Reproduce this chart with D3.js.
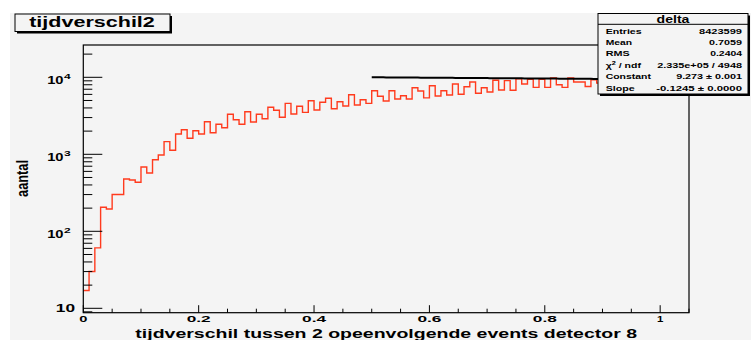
<!DOCTYPE html>
<html>
<head>
<meta charset="utf-8">
<script src="https://cdn.jsdelivr.net/npm/d3@7"></script>
<style>
  html, body { margin: 0; padding: 0; background: #ffffff; }
  svg { display: block; }
  text { font-family: "Liberation Sans", Arial, Helvetica, sans-serif; font-weight: bold; fill: #000; }
</style>
</head>
<body>
<svg id="chart" width="751" height="340"></svg>
<script>
// Histogram "delta": counts per 0.01-wide bin of the time difference
const binEdgesStart = 0;
const binWidth = 0.01;
const counts = [
  17, 30, 61, 205, 195, 300, 300, 478, 463, 433,
  684, 571, 851, 980, 1459, 1128, 1837, 2085, 1615, 2023,
  1837, 2650, 1909, 2453, 2213, 3306, 2812, 2453, 3575, 2624,
  3306, 2897, 4075, 3726, 3028, 4592, 3335, 4199, 3508, 4970,
  3760, 4733, 5333, 3909, 4819, 4236, 5943, 4367, 5117, 4592,
  6699, 5662, 4923, 6699, 5224, 5770, 5224, 7329, 6640, 5400,
  7750, 5716, 6699, 5892, 8186, 6013, 7551, 8690, 6195, 7329,
  6443, 9143, 6837, 9059, 6778, 9590, 8186, 9420, 7409, 9420,
  7400, 9800, 8000, 7400, 9800, 8700, 8700, 7600, 9300, 8400,
  9000, 8800, 9100, 8600, 9000, 8900, 8700, 9200, 8800, 9000
];

// Exponential fit over [0.5, 1.0]: exp(Constant + Slope * x)
const fitRange = [0.5, 1.0];
const fitConstant = 9.273;
const fitSlope = -0.1245;

// Axis ticks
const xMajorTicks = [0, 0.2, 0.4, 0.6, 0.8, 1];
const xMajorLabels = ["0", "0.2", "0.4", "0.6", "0.8", "1"];
const xMinorStep = 0.05;
const yDecades = [10, 100, 1000, 10000];
const yDecadeExponents = ["", "2", "3", "4"];

// Statistics box
const statTitle = "delta";
const statNames = ["Entries", "Mean", "RMS", "χ2 / ndf", "Constant", "Slope"];
const statValues = ["8423599", "0.7059", "0.2404", "2.335e+05 / 4948", "9.273 ± 0.001", "-0.1245 ± 0.0000"];

const histTitle = "tijdverschil2";
const xTitle = "tijdverschil tussen 2 opeenvolgende events detector 8";
const yTitle = "aantal";

const svg = d3.select("#chart");

const frame = { left: 83.3, right: 689, top: 45, bottom: 312.7 };

const x = d3.scaleLinear().domain([0, 1.05]).range([frame.left, frame.right]);
const y = d3.scaleLog().domain([8.77, 26270]).range([frame.bottom, frame.top]);

// Draw text, stretched horizontally to a given width
function label(parent, parts, o) {
  const g = parent.append("g");
  const t = g.append("text")
    .attr("font-size", o.size)
    .attr("text-anchor", o.anchor || "start");
  (Array.isArray(parts) ? parts : [[parts, false]]).forEach(([s, sup]) => {
    const ts = t.append("tspan").text(s);
    if (sup) ts.attr("font-size", o.size * 0.7).attr("baseline-shift", "super");
  });
  const w = t.node().getBBox().width;
  const sx = o.width ? o.width / w : 1;
  const rot = o.rotate ? ` rotate(${o.rotate})` : "";
  g.attr("transform", `translate(${o.x},${o.y})${rot} scale(${sx},1)`);
  return g;
}

// Pad background
svg.append("rect").attr("x", 10).attr("y", 13).attr("width", 741).attr("height", 327)
  .attr("fill", "#f4f4f4");

// Histogram outline (step)
const pts = counts.map((c, i) => [binEdgesStart + i * binWidth, c]);
pts.push([binEdgesStart + counts.length * binWidth, counts[counts.length - 1]]);
const stepLine = d3.line().x(d => x(d[0])).y(d => y(d[1])).curve(d3.curveStepAfter);
svg.append("path").attr("d", stepLine(pts))
  .attr("fill", "none").attr("stroke", "#ff3b1e").attr("stroke-width", 1.4);

// Fit curve
const fitPts = d3.range(0, 101).map(k => {
  const xv = fitRange[0] + (fitRange[1] - fitRange[0]) * k / 100;
  return [xv, Math.exp(fitConstant + fitSlope * xv)];
});
svg.append("path").attr("d", d3.line().x(d => x(d[0])).y(d => y(d[1]))(fitPts))
  .attr("fill", "none").attr("stroke", "#000").attr("stroke-width", 2);

// Axis ticks
const ticks = svg.append("g").attr("stroke", "#000").attr("stroke-width", 1);
d3.range(0, 1.0501, xMinorStep).forEach(v => {
  const major = xMajorTicks.some(m => Math.abs(m - v) < 1e-6);
  ticks.append("line").attr("x1", x(v)).attr("x2", x(v))
    .attr("y1", frame.bottom).attr("y2", frame.bottom - (major ? 7.5 : 4));
});
const yMinor = [];
[1, 10, 100, 1000, 10000].forEach(d => d3.range(1, 10).forEach(m => yMinor.push(d * m)));
yMinor.filter(v => v >= 8.77 && v <= 26270).forEach(v => {
  const major = yDecades.includes(v);
  ticks.append("line").attr("x1", frame.left).attr("x2", frame.left + (major ? 19 : 9))
    .attr("y1", y(v)).attr("y2", y(v));
});

// Frame
svg.append("rect").attr("x", frame.left).attr("y", frame.top)
  .attr("width", frame.right - frame.left).attr("height", frame.bottom - frame.top)
  .attr("fill", "none").attr("stroke", "#000").attr("stroke-width", 1.2);

// X tick labels
xMajorTicks.forEach((v, i) => {
  const s = xMajorLabels[i];
  label(svg, s, { x: x(v), y: 322, size: 9.8, anchor: "middle", width: s.length === 1 ? (s === "1" ? 7 : 9) : 25 });
});

// Y tick labels
yDecades.forEach((v, i) => {
  const yy = y(v);
  if (yDecadeExponents[i] === "") {
    label(svg, "10", { x: 75, y: yy + 3.6, size: 10, anchor: "end", width: 20 });
  } else {
    label(svg, "10", { x: 63.5, y: yy + 6.3, size: 10, anchor: "end", width: 17 });
    label(svg, yDecadeExponents[i], { x: 64, y: yy + 1.8, size: 8, anchor: "start", width: 7.5 });
  }
});

// Axis titles
label(svg, xTitle, { x: (frame.left + frame.right) / 2, y: 337.5, size: 12.5, anchor: "middle", width: 502 });
label(svg, yTitle, { x: 28.3, y: 178.5, size: 16, anchor: "middle", width: 37, rotate: -90 });

// Title box
const tb = { x: 15, y: 14, w: 155, h: 17.5 };
svg.append("rect").attr("x", tb.x + 2).attr("y", tb.y + 2).attr("width", tb.w).attr("height", tb.h).attr("fill", "#000");
svg.append("rect").attr("x", tb.x).attr("y", tb.y).attr("width", tb.w).attr("height", tb.h)
  .attr("fill", "#f4f4f4").attr("stroke", "#000").attr("stroke-width", 1);
label(svg, histTitle, { x: 92, y: 26.8, size: 14, anchor: "middle", width: 126 });

// Statistics box
const sb = { x: 598, y: 13.5, w: 150, h: 80.5 };
svg.append("rect").attr("x", sb.x + 2).attr("y", sb.y + 2).attr("width", sb.w).attr("height", sb.h).attr("fill", "#000");
svg.append("rect").attr("x", sb.x).attr("y", sb.y).attr("width", sb.w).attr("height", sb.h)
  .attr("fill", "#f4f4f4").attr("stroke", "#000").attr("stroke-width", 1);
svg.append("line").attr("x1", sb.x).attr("x2", sb.x + sb.w).attr("y1", 24.3).attr("y2", 24.3)
  .attr("stroke", "#000").attr("stroke-width", 1);
label(svg, statTitle, { x: 673, y: 22.8, size: 11, anchor: "middle", width: 34 });

const nameWidths = [36, 27, 24, 36, 46, 29];
const valueWidths = [43, 33, 33, 85, 66, 86];
statNames.forEach((s, i) => {
  const yy = 33.6 + i * 11.4;
  const parts = s.startsWith("χ2") ? [["χ", false], ["2", true], [" / ndf", false]] : s;
  label(svg, parts, { x: 605.7, y: yy, size: 7.5, anchor: "start", width: nameWidths[i] });
  label(svg, statValues[i], { x: 742, y: yy, size: 7.5, anchor: "end", width: valueWidths[i] });
});
</script>
</body>
</html>
